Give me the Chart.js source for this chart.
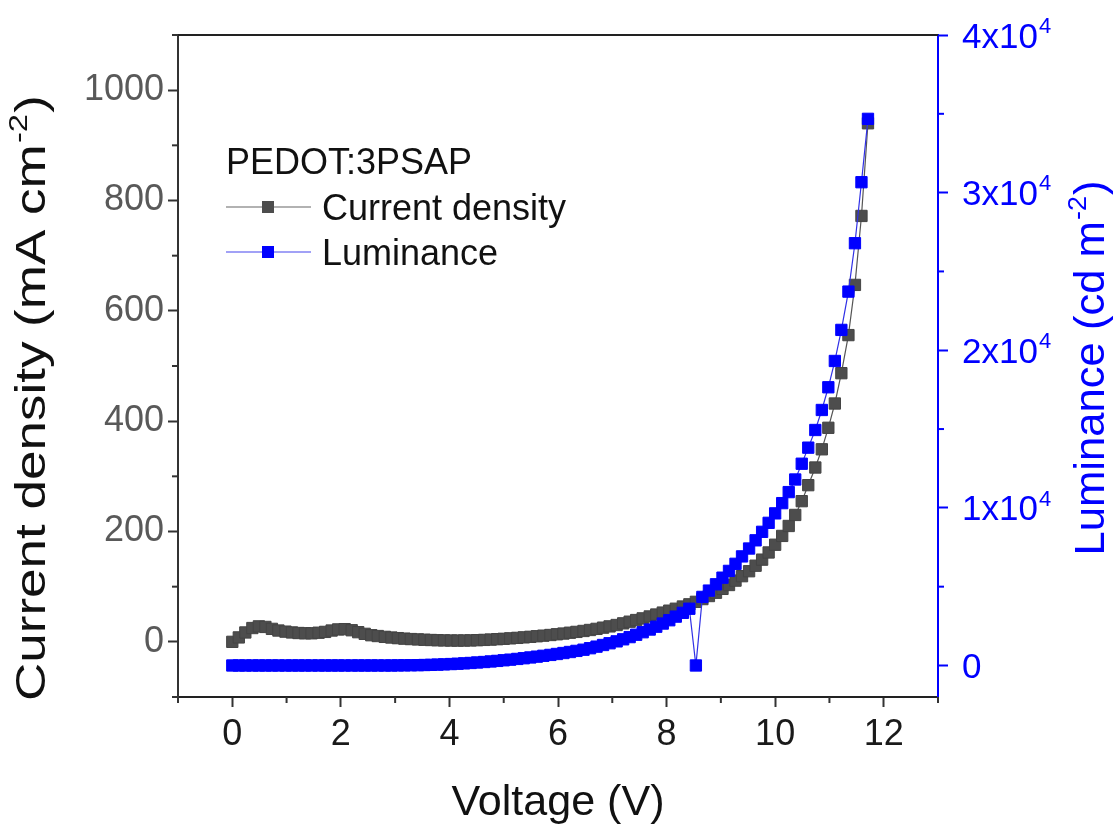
<!DOCTYPE html>
<html>
<head>
<meta charset="utf-8">
<script src="https://cdn.jsdelivr.net/npm/chart.js@4.4.0/dist/chart.umd.min.js"></script>
<style>
  body { margin: 0; background: #fff; }
  #c { display: block; }
</style>
</head>
<body>
<canvas id="c" width="1118" height="825" style="width:1118px;height:825px"></canvas>
<script>
// 電圧 (V)
const voltage = [
  0, 0.12, 0.24, 0.37, 0.49, 0.61, 0.73, 0.85, 0.98, 1.10,
  1.22, 1.34, 1.46, 1.59, 1.71, 1.83, 1.95, 2.07, 2.20, 2.32,
  2.44, 2.56, 2.68, 2.81, 2.93, 3.05, 3.17, 3.29, 3.42, 3.54,
  3.66, 3.78, 3.90, 4.03, 4.15, 4.27, 4.39, 4.51, 4.64, 4.76,
  4.88, 5.00, 5.12, 5.25, 5.37, 5.49, 5.61, 5.73, 5.86, 5.98,
  6.10, 6.22, 6.34, 6.47, 6.59, 6.71, 6.83, 6.95, 7.08, 7.20,
  7.32, 7.44, 7.56, 7.69, 7.81, 7.93, 8.05, 8.17, 8.30, 8.42,
  8.54, 8.66, 8.78, 8.91, 9.03, 9.15, 9.27, 9.39, 9.52, 9.64,
  9.76, 9.88, 10.00, 10.13, 10.25, 10.37, 10.49, 10.61, 10.74, 10.86,
  10.98, 11.10, 11.22, 11.35, 11.47, 11.59, 11.71,
]
// 電流密度 (mA cm-2)
const currentDensity = [
  0, 8, 17, 25, 28, 27, 23.5, 20.5, 18.5, 17,
  16, 15.5, 15.5, 16.5, 18, 20.5, 22.5, 23, 21, 17.5,
  14.5, 12, 10.5, 9, 7.8, 6.7, 5.8, 5, 4.4, 3.8,
  3.3, 2.9, 2.6, 2.4, 2.3, 2.4, 2.6, 3, 3.5, 4.1,
  4.8, 5.5, 6.3, 7.2, 8.1, 9.1, 10.1, 11.2, 12.4, 13.7,
  15, 16.5, 18, 19.7, 21.5, 23.5, 25.7, 28, 30.5, 33.5,
  36.5, 39.5, 42.5, 46, 49.5, 53, 56.5, 60, 64, 68,
  72.5, 77.5, 83, 89, 96, 103, 111, 119, 128, 138,
  149, 162, 176, 192, 210, 230, 255, 284, 316, 349,
  388, 432, 487, 556, 647, 772, 940,
]
// 輝度 (cd m-2)
const luminance = [
  0, 0, 0, 0, 0, 0, 0, 0, 0, 0,
  0, 0, 0, 0, 0, 0, 0, 0, 0, 0,
  0, 0, 0, 0, 0, 5, 10, 15, 20, 30,
  40, 55, 70, 90, 110, 135, 160, 190, 220, 255,
  290, 330, 370, 415, 460, 510, 560, 615, 670, 730,
  790, 855, 925, 1000, 1095, 1195, 1300, 1410, 1530, 1660,
  1800, 1950, 2110, 2280, 2460, 2660, 2870, 3100, 3340, 3600,
  0, 4350, 4750, 5150, 5570, 6000, 6450, 6920, 7420, 7940,
  8480, 9050, 9650, 10300, 11000, 11800, 12800, 13820, 14940, 16210,
  17650, 19320, 21290, 23720, 26790, 30660, 34680,
]

const xTicks = [0, 2, 4, 6, 8, 10, 12]
const xMinor = [-1, 1, 3, 5, 7, 9, 11, 13]
const jTicks = [0, 200, 400, 600, 800, 1000]
const jMinor = [-100, 100, 300, 500, 700, 900, 1100]
const lTicks = [0, 10000, 20000, 30000, 40000]
const lMinor = [5000, 15000, 25000, 35000]
const lTickBase = ["0", "1x10", "2x10", "3x10", "4x10"]
const lTickExp = ["", "4", "4", "4", "4"]

const FONT = '"Liberation Sans", Arial, sans-serif'
const GRAY = "#4d4d4d"
const BLUE = "#0000ff"

// 上付き文字つきのテキスト (segments: [{t, sup}])
function segWidth(ctx, segs, size) {
  let w = 0
  segs.forEach((s) => {
    ctx.font = (s.sup ? Math.round(size * 0.62) : size) + "px " + FONT
    w += ctx.measureText(s.t).width + (s.sup ? 2 : 0)
  })
  return w
}
function drawSegs(ctx, segs, x, y, size) {
  ctx.textAlign = "left"
  ctx.textBaseline = "alphabetic"
  segs.forEach((s) => {
    const sz = s.sup ? Math.round(size * 0.62) : size
    ctx.font = sz + "px " + FONT
    const dy = s.sup ? -size * 0.42 : 0
    if (s.sup) x += 1
    ctx.fillText(s.t, x, y + dy)
    x += ctx.measureText(s.t).width + (s.sup ? 1 : 0)
  })
}
// 回転・伸縮つきのタイトル
function drawTitle(ctx, segs, cx, cy, size, color, rotate, length) {
  ctx.save()
  ctx.fillStyle = color
  ctx.translate(cx, cy)
  if (rotate) ctx.rotate(-Math.PI / 2)
  const w = segWidth(ctx, segs, size)
  const sx = length ? length / w : 1
  ctx.scale(sx, 1)
  drawSegs(ctx, segs, -w / 2, 0, size)
  ctx.restore()
}

const decor = {
  id: "decor",
  afterDraw(chart) {
    const ctx = chart.ctx
    const a = chart.chartArea
    const sx = chart.scales.x
    const sy = chart.scales.y
    const sl = chart.scales.y1
    ctx.save()
    // 上の枠線
    ctx.strokeStyle = "#222"
    ctx.lineWidth = 2
    ctx.beginPath()
    ctx.moveTo(a.left, a.top)
    ctx.lineTo(a.right, a.top)
    ctx.stroke()
    // 補助目盛
    ctx.strokeStyle = "#333"
    xMinor.forEach((v) => {
      const p = sx.getPixelForValue(v)
      ctx.beginPath()
      ctx.moveTo(p, a.bottom)
      ctx.lineTo(p, a.bottom + 6)
      ctx.stroke()
    })
    jMinor.forEach((v) => {
      const p = sy.getPixelForValue(v)
      ctx.beginPath()
      ctx.moveTo(a.left, p)
      ctx.lineTo(a.left - 6, p)
      ctx.stroke()
    })
    ctx.strokeStyle = BLUE
    lMinor.forEach((v) => {
      const p = sl.getPixelForValue(v)
      ctx.beginPath()
      ctx.moveTo(a.right, p)
      ctx.lineTo(a.right + 6, p)
      ctx.stroke()
    })
    // 右軸のラベル
    ctx.fillStyle = BLUE
    lTicks.forEach((v, i) => {
      const p = sl.getPixelForValue(v)
      const segs = [{ t: lTickBase[i] }]
      if (lTickExp[i]) segs.push({ t: lTickExp[i], sup: true })
      drawSegs(ctx, segs, a.right + 24, p + 12.5, 35)
    })
    // 軸タイトル
    drawTitle(ctx, [{ t: "Voltage (V)" }], 558, 815, 42, "#111", false, 213)
    drawTitle(ctx, [{ t: "Current density (mA cm" }, { t: "-2", sup: true }, { t: ")" }],
      45, 398, 42, "#111", true, 606)
    drawTitle(ctx, [{ t: "Luminance (cd m" }, { t: "-2", sup: true }, { t: ")" }],
      1104, 368, 42, BLUE, true, 375)
    // 凡例
    ctx.fillStyle = "#111"
    drawSegs(ctx, [{ t: "PEDOT:3PSAP" }], 226, 174, 36)
    const items = [
      { label: "Current density", line: "#666", fill: GRAY, y: 207 },
      { label: "Luminance", line: "#4444ee", fill: BLUE, y: 252 },
    ]
    items.forEach((it) => {
      ctx.strokeStyle = it.line
      ctx.lineWidth = 1.2
      ctx.beginPath()
      ctx.moveTo(226, it.y)
      ctx.lineTo(311, it.y)
      ctx.stroke()
      ctx.fillStyle = it.fill
      ctx.fillRect(262, it.y - 6, 12, 12)
      ctx.fillStyle = "#111"
      drawSegs(ctx, [{ t: it.label }], 322, it.y + 13, 36)
    })
    ctx.restore()
  },
}

const ptsJ = voltage.map((v, i) => ({ x: v, y: currentDensity[i] }))
const ptsL = voltage.map((v, i) => ({ x: v, y: luminance[i] }))

new Chart(document.getElementById("c"), {
  type: "scatter",
  data: {
    datasets: [
      {
        label: "Luminance",
        data: ptsL,
        yAxisID: "y1",
        showLine: true,
        borderColor: "#3030e6",
        borderWidth: 1.2,
        pointStyle: "rect",
        pointRadius: 8,
        pointHoverRadius: 8,
        pointBackgroundColor: BLUE,
        pointBorderColor: BLUE,
        pointBorderWidth: 1,
      },
      {
        label: "Current density",
        data: ptsJ,
        yAxisID: "y",
        showLine: true,
        borderColor: "#555",
        borderWidth: 1.2,
        pointStyle: "rect",
        pointRadius: 8,
        pointHoverRadius: 8,
        pointBackgroundColor: GRAY,
        pointBorderColor: "#444",
        pointBorderWidth: 1,
      },
    ],
  },
  options: {
    responsive: false,
    animation: false,
    layout: { padding: { top: 35, left: 0, right: 0, bottom: 0 } },
    plugins: { legend: { display: false }, tooltip: { enabled: false } },
    scales: {
      x: {
        type: "linear",
        min: -1,
        max: 13,
        afterBuildTicks: (s) => { s.ticks = xTicks.map((v) => ({ value: v })) },
        afterFit: (s) => { s.height = 128 },
        ticks: { callback: (v) => String(v), font: { family: FONT, size: 36 }, color: "#1a1a1a", padding: 6, maxRotation: 0, autoSkip: false },
        grid: { drawOnChartArea: false, tickLength: 10, tickWidth: 2, tickColor: "#333" },
        border: { color: "#222", width: 2 },
      },
      y: {
        position: "left",
        min: -100,
        max: 1100,
        afterBuildTicks: (s) => { s.ticks = jTicks.map((v) => ({ value: v })) },
        afterFit: (s) => { s.width = 178 },
        ticks: { callback: (v) => String(v), font: { family: FONT, size: 36 }, color: "#595959", padding: 4, autoSkip: false },
        grid: { drawOnChartArea: false, tickLength: 10, tickWidth: 2, tickColor: "#333" },
        border: { color: "#333", width: 2 },
      },
      y1: {
        position: "right",
        min: -2000,
        max: 40000,
        afterBuildTicks: (s) => { s.ticks = lTicks.map((v) => ({ value: v })) },
        afterFit: (s) => { s.width = 180 },
        ticks: { callback: () => "", autoSkip: false },
        grid: { drawOnChartArea: false, tickLength: 10, tickWidth: 2, tickColor: BLUE },
        border: { color: BLUE, width: 2 },
      },
    },
  },
  plugins: [decor],
})
</script>
</body>
</html>
